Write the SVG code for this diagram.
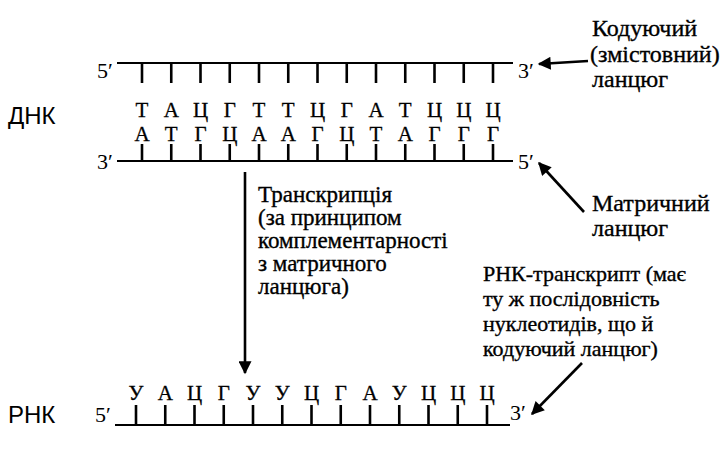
<svg xmlns="http://www.w3.org/2000/svg" width="728" height="452" viewBox="0 0 728 452">
<defs>
<style>
.strand{stroke:#000;stroke-width:2.2;fill:none}
.tick{stroke:#000;stroke-width:2.6}
.nt{font-family:"Liberation Serif","Times New Roman",serif;font-size:21px;fill:#000;stroke:#000;stroke-width:0.3;text-anchor:middle}
.lbl{font-family:"Liberation Serif","Times New Roman",serif;font-size:23px;fill:#000;stroke:#000;stroke-width:0.35}
.big{font-size:24px}
.small{font-size:22px}
.end{font-family:"Liberation Serif","Times New Roman",serif;font-size:22px;fill:#000}
.side{font-family:"Liberation Sans",Arial,sans-serif;font-size:24px;fill:#000}
.arr{stroke:#000;stroke-width:2.6;fill:none}
</style>
<marker id="ah" viewBox="0 0 10 10" refX="9" refY="5" markerWidth="6" markerHeight="5" markerUnits="strokeWidth" orient="auto">
<path d="M0,0 L10,5 L0,10 Z" fill="#000"/>
</marker>
</defs>
<rect width="728" height="452" fill="#fff"/>

<g id="dna">
<text class="side" x="8" y="124">ДНК</text>
<g id="coding-strand">
<text class="end" x="97" y="78">5′</text>
<line class="strand" x1="117" y1="63" x2="513" y2="63"/>
<text class="end" x="518" y="78">3′</text>
<g class="tick">
<line x1="142" y1="63" x2="142" y2="83"/><line x1="171.25" y1="63" x2="171.25" y2="83"/><line x1="200.5" y1="63" x2="200.5" y2="83"/><line x1="229.75" y1="63" x2="229.75" y2="83"/><line x1="259" y1="63" x2="259" y2="83"/><line x1="288.25" y1="63" x2="288.25" y2="83"/><line x1="317.5" y1="63" x2="317.5" y2="83"/><line x1="346.75" y1="63" x2="346.75" y2="83"/><line x1="376" y1="63" x2="376" y2="83"/><line x1="405.25" y1="63" x2="405.25" y2="83"/><line x1="434.5" y1="63" x2="434.5" y2="83"/><line x1="463.75" y1="63" x2="463.75" y2="83"/><line x1="493" y1="63" x2="493" y2="83"/>
</g>
<g class="nt">
<text x="142" y="117">Т</text><text x="171.25" y="117">А</text><text x="200.5" y="117">Ц</text><text x="229.75" y="117">Г</text><text x="259" y="117">Т</text><text x="288.25" y="117">Т</text><text x="317.5" y="117">Ц</text><text x="346.75" y="117">Г</text><text x="376" y="117">А</text><text x="405.25" y="117">Т</text><text x="434.5" y="117">Ц</text><text x="463.75" y="117">Ц</text><text x="493" y="117">Ц</text>
</g>
</g>
<g id="template-strand">
<g class="nt">
<text x="142" y="141">А</text><text x="171.25" y="141">Т</text><text x="200.5" y="141">Г</text><text x="229.75" y="141">Ц</text><text x="259" y="141">А</text><text x="288.25" y="141">А</text><text x="317.5" y="141">Г</text><text x="346.75" y="141">Ц</text><text x="376" y="141">Т</text><text x="405.25" y="141">А</text><text x="434.5" y="141">Г</text><text x="463.75" y="141">Г</text><text x="493" y="141">Г</text>
</g>
<g class="tick">
<line x1="142" y1="144" x2="142" y2="161"/><line x1="171.25" y1="144" x2="171.25" y2="161"/><line x1="200.5" y1="144" x2="200.5" y2="161"/><line x1="229.75" y1="144" x2="229.75" y2="161"/><line x1="259" y1="144" x2="259" y2="161"/><line x1="288.25" y1="144" x2="288.25" y2="161"/><line x1="317.5" y1="144" x2="317.5" y2="161"/><line x1="346.75" y1="144" x2="346.75" y2="161"/><line x1="376" y1="144" x2="376" y2="161"/><line x1="405.25" y1="144" x2="405.25" y2="161"/><line x1="434.5" y1="144" x2="434.5" y2="161"/><line x1="463.75" y1="144" x2="463.75" y2="161"/><line x1="493" y1="144" x2="493" y2="161"/>
</g>
<text class="end" x="97" y="169">3′</text>
<line class="strand" x1="117" y1="161" x2="513" y2="161"/>
<text class="end" x="518" y="169">5′</text>
</g>
</g>

<g id="rna">
<text class="side" x="8" y="423">РНК</text>
<text class="end" x="95" y="422">5′</text>
<line class="strand" x1="115" y1="425" x2="510" y2="425"/>
<text class="end" x="510" y="420">3′</text>
<g class="tick">
<line x1="136" y1="405" x2="136" y2="425"/><line x1="165.25" y1="405" x2="165.25" y2="425"/><line x1="194.5" y1="405" x2="194.5" y2="425"/><line x1="223.75" y1="405" x2="223.75" y2="425"/><line x1="253" y1="405" x2="253" y2="425"/><line x1="282.25" y1="405" x2="282.25" y2="425"/><line x1="311.5" y1="405" x2="311.5" y2="425"/><line x1="340.75" y1="405" x2="340.75" y2="425"/><line x1="370" y1="405" x2="370" y2="425"/><line x1="399.25" y1="405" x2="399.25" y2="425"/><line x1="428.5" y1="405" x2="428.5" y2="425"/><line x1="457.75" y1="405" x2="457.75" y2="425"/><line x1="487" y1="405" x2="487" y2="425"/>
</g>
<g class="nt">
<text x="136" y="400">У</text><text x="165.25" y="400">А</text><text x="194.5" y="400">Ц</text><text x="223.75" y="400">Г</text><text x="253" y="400">У</text><text x="282.25" y="400">У</text><text x="311.5" y="400">Ц</text><text x="340.75" y="400">Г</text><text x="370" y="400">А</text><text x="399.25" y="400">У</text><text x="428.5" y="400">Ц</text><text x="457.75" y="400">Ц</text><text x="487" y="400">Ц</text>
</g>
</g>

<g id="label-coding">
<text class="lbl big" x="592" y="36">Кодуючий</text>
<text class="lbl big" x="590" y="62">(змістовний)</text>
<text class="lbl big" x="592" y="87">ланцюг</text>
</g>
<g id="label-template">
<text class="lbl big" x="592" y="211">Матричний</text>
<text class="lbl big" x="592" y="236">ланцюг</text>
</g>
<g id="label-transcription">
<text class="lbl" x="258" y="202">Транскрипція</text>
<text class="lbl" x="258" y="225">(за принципом</text>
<text class="lbl" x="258" y="248">комплементарності</text>
<text class="lbl" x="258" y="271">з матричного</text>
<text class="lbl" x="258" y="294">ланцюга)</text>
</g>
<g id="label-transcript">
<text class="lbl small" x="483" y="281">РНК-транскрипт (має</text>
<text class="lbl small" x="483" y="306">ту ж послідовність</text>
<text class="lbl small" x="483" y="331">нуклеотидів, що й</text>
<text class="lbl small" x="483" y="356">кодуючий ланцюг)</text>
</g>

<g id="connectors">
<line class="arr" x1="588" y1="61" x2="539" y2="64" marker-end="url(#ah)"/>
<line class="arr" x1="245" y1="172" x2="245" y2="373" marker-end="url(#ah)"/>
<line class="arr" x1="584" y1="212" x2="539" y2="163" marker-end="url(#ah)"/>
<line class="arr" x1="582" y1="363" x2="532" y2="414" marker-end="url(#ah)"/>
</g>
</svg>
